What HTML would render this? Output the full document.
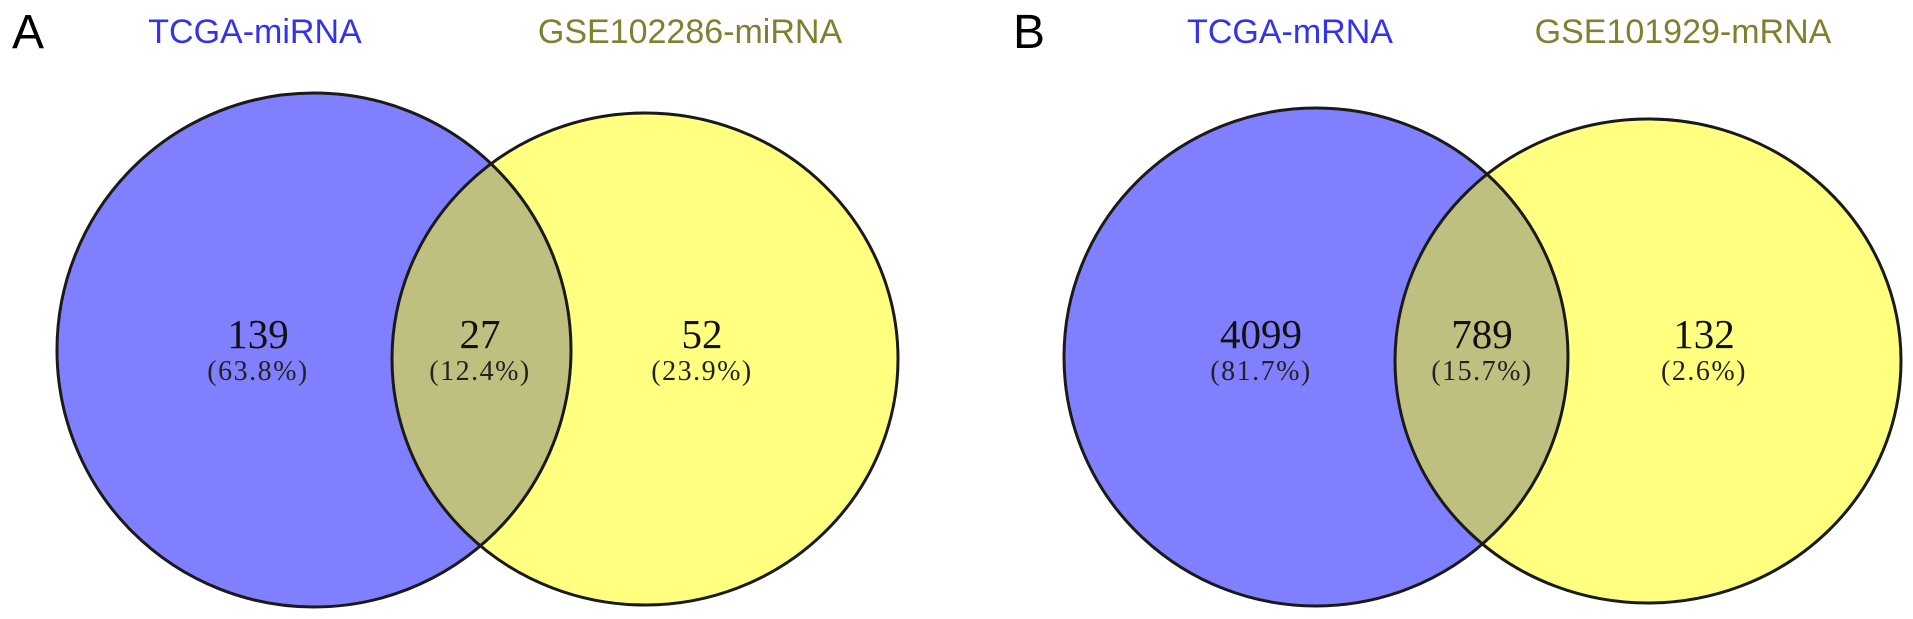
<!DOCTYPE html>
<html><head><meta charset="utf-8"><style>
html,body{margin:0;padding:0;background:#fff;}
svg{display:block;}
.lab{font-family:"Liberation Sans",sans-serif;font-size:34px;}
.num{font-family:"Liberation Serif",serif;font-size:41px;fill:#111;}
.pct{font-family:"Liberation Serif",serif;font-size:28px;fill:#222;letter-spacing:1.5px;}
</style></head><body>
<svg id="chart" width="1913" height="619" viewBox="0 0 1913 619" xmlns="http://www.w3.org/2000/svg">
<text x="12" y="48" style="font-family:'Liberation Sans',sans-serif;font-size:48px">A</text>
<text x="1013" y="48" style="font-family:'Liberation Sans',sans-serif;font-size:48px">B</text>
<g id="venns"></g>
</svg>
<script>
const setNames = [["TCGA-miRNA","GSE102286-miRNA"],["TCGA-mRNA","GSE101929-mRNA"]];
const counts = [[139,27,52],[4099,789,132]];
const percents = [["(63.8%)","(12.4%)","(23.9%)"],["(81.7%)","(15.7%)","(2.6%)"]];
const panelIds = ["a","b"];
const layout = [
 {l:{cx:314,cy:350,rx:257,ry:257},r:{cx:645,cy:359,rx:253,ry:246},tx:[258,480,702],lx:[255,690]},
 {l:{cx:1316,cy:357,rx:252,ry:249},r:{cx:1648,cy:361,rx:253,ry:242},tx:[1261,1482,1704],lx:[1290,1683]}
];
const NS="http://www.w3.org/2000/svg";
const g=document.getElementById('venns');
function mk(t,a){const e=document.createElementNS(NS,t);for(const k in a)e.setAttribute(k,a[k]);return e;}
layout.forEach((L,i)=>{
  const grp=mk('g',{});
  
  
  const defs=mk('defs',{});
  const cp=mk('clipPath',{id:'clip'+i});
  cp.appendChild(mk('ellipse',{cx:L.l.cx,cy:L.l.cy,rx:L.l.rx,ry:L.l.ry}));
  defs.appendChild(cp);grp.appendChild(defs);
  const a=mk('ellipse',{cx:L.l.cx,cy:L.l.cy,rx:L.l.rx,ry:L.l.ry,fill:'#8080ff'});
  
  
  grp.appendChild(a);
  const b=mk('ellipse',{cx:L.r.cx,cy:L.r.cy,rx:L.r.rx,ry:L.r.ry,fill:'#ffff80'});
  
  
  grp.appendChild(b);
  const o=mk('ellipse',{cx:L.r.cx,cy:L.r.cy,rx:L.r.rx,ry:L.r.ry,fill:'#bfbf80','clip-path':'url(#clip'+i+')'});
  
  
  grp.appendChild(o);
  [L.l,L.r].forEach(c=>grp.appendChild(mk('ellipse',{cx:c.cx,cy:c.cy,rx:c.rx,ry:c.ry,fill:'none',stroke:'#1a1a1a','stroke-width':3})));
  const cols=['#3333ee','#808030'];
  setNames[i].forEach((n,j)=>{
    const t=mk('text',{x:L.lx[j],y:43,'text-anchor':'middle',class:'lab',fill:cols[j]});
    t.textContent=n;
    
    
    grp.appendChild(t);
  });
  counts[i].forEach((v,j)=>{
    const t=mk('text',{x:L.tx[j],y:348,'text-anchor':'middle',class:'num'});
    t.textContent=v;
    
    
    grp.appendChild(t);
    const p=mk('text',{x:L.tx[j],y:380,'text-anchor':'middle',class:'pct'});
    p.textContent=percents[i][j];
    
    
    grp.appendChild(p);
  });
  g.appendChild(grp);
});
</script>
</body></html>
